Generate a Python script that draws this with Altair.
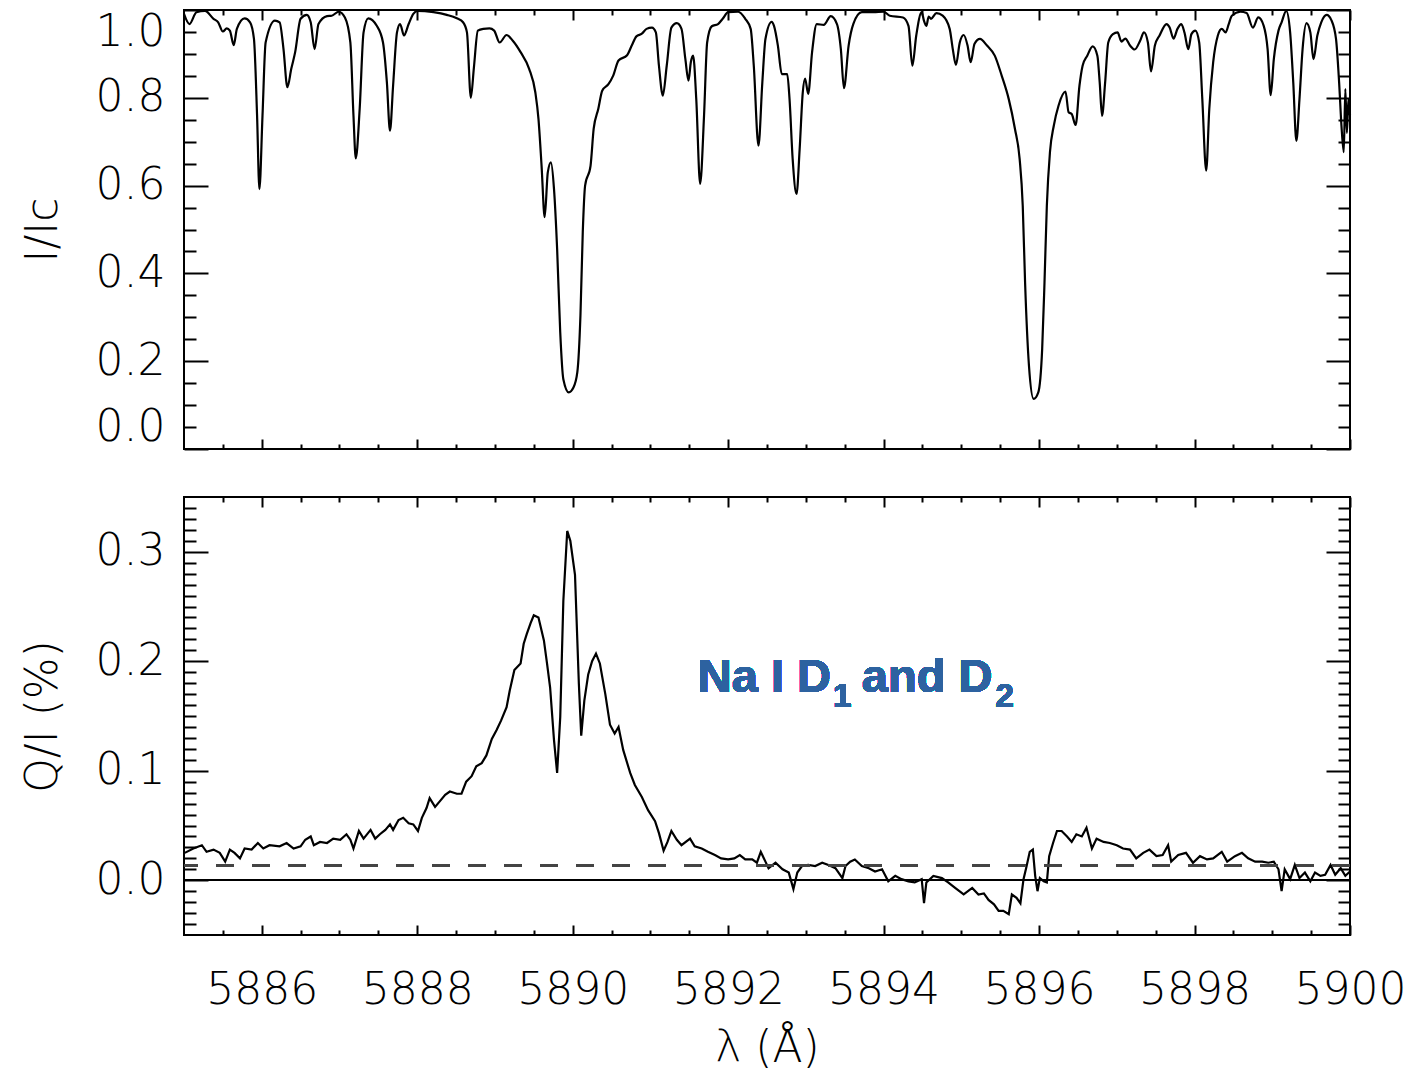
import altair as alt
import pandas as pd

# ---------------- data ----------------
# Top panel: intensity spectrum I/Ic versus wavelength (Angstrom)
wl_top = [
    5885.00, 5885.07, 5885.16, 5885.27, 5885.38, 5885.44, 5885.50, 5885.55, 5885.59, 5885.64,
    5885.68, 5885.78, 5885.85, 5885.90, 5885.94, 5885.97, 5886.01, 5886.05, 5886.17, 5886.23,
    5886.28, 5886.33, 5886.38, 5886.43, 5886.50, 5886.58, 5886.63, 5886.68, 5886.73, 5886.84,
    5886.90, 5886.99, 5887.07, 5887.14, 5887.18, 5887.21, 5887.26, 5887.31, 5887.37, 5887.48,
    5887.56, 5887.61, 5887.65, 5887.69, 5887.74, 5887.78, 5887.83, 5887.89, 5887.95, 5888.00,
    5888.21, 5888.38, 5888.51, 5888.59, 5888.64, 5888.69, 5888.73, 5888.78, 5888.85, 5888.93,
    5888.99, 5889.06, 5889.15, 5889.23, 5889.33, 5889.44, 5889.52, 5889.56, 5889.60, 5889.64,
    5889.68, 5889.72, 5889.76, 5889.80, 5889.84, 5889.88, 5889.95, 5890.01, 5890.06, 5890.10,
    5890.13, 5890.16, 5890.23, 5890.27, 5890.33, 5890.38, 5890.46, 5890.52, 5890.59, 5890.70,
    5890.76, 5890.82, 5890.89, 5890.95, 5891.02, 5891.07, 5891.11, 5891.16, 5891.21, 5891.27,
    5891.34, 5891.40, 5891.45, 5891.49, 5891.52, 5891.55, 5891.59, 5891.64, 5891.69, 5891.73,
    5891.79, 5891.87, 5891.93, 5892.00, 5892.13, 5892.22, 5892.29, 5892.33, 5892.39, 5892.44,
    5892.48, 5892.56, 5892.59, 5892.64, 5892.69, 5892.76, 5892.79, 5892.83, 5892.88, 5892.92,
    5892.96, 5892.99, 5893.03, 5893.08, 5893.14, 5893.23, 5893.32, 5893.40, 5893.45, 5893.49,
    5893.55, 5893.61, 5893.72, 5893.87, 5894.00, 5894.08, 5894.25, 5894.32, 5894.37, 5894.42,
    5894.49, 5894.52, 5894.55, 5894.58, 5894.61, 5894.68, 5894.76, 5894.85, 5894.89, 5894.93,
    5894.98, 5895.03, 5895.08, 5895.12, 5895.17, 5895.24, 5895.33, 5895.43, 5895.52, 5895.61,
    5895.69, 5895.75, 5895.79, 5895.82, 5895.87, 5895.93, 5895.99, 5896.04, 5896.07, 5896.10,
    5896.14, 5896.19, 5896.25, 5896.34, 5896.38, 5896.42, 5896.47, 5896.52, 5896.56, 5896.62,
    5896.69, 5896.75, 5896.78, 5896.81, 5896.85, 5896.89, 5896.95, 5897.01, 5897.06, 5897.11,
    5897.17, 5897.23, 5897.30, 5897.35, 5897.40, 5897.44, 5897.49, 5897.55, 5897.64, 5897.68,
    5897.73, 5897.78, 5897.83, 5897.87, 5897.92, 5897.96, 5898.01, 5898.06, 5898.10, 5898.15,
    5898.19, 5898.24, 5898.30, 5898.35, 5898.40, 5898.44, 5898.48, 5898.59, 5898.67, 5898.75,
    5898.82, 5898.89, 5898.94, 5898.98, 5899.02, 5899.08, 5899.12, 5899.18, 5899.23, 5899.27,
    5899.31, 5899.35, 5899.39, 5899.44, 5899.49, 5899.53, 5899.58, 5899.63, 5899.70, 5899.76,
    5899.82, 5899.86, 5899.89, 5899.92, 5899.94, 5899.96, 5899.98, 5900.00,
]
i_top = [
    0.991, 0.968, 0.995, 0.998, 0.980, 0.972, 0.951, 0.958, 0.953, 0.920,
    0.957, 0.981, 0.972, 0.934, 0.760, 0.592, 0.760, 0.926, 0.976, 0.972,
    0.911, 0.824, 0.866, 0.904, 0.980, 0.989, 0.972, 0.911, 0.968, 0.986,
    0.987, 0.996, 0.983, 0.926, 0.760, 0.662, 0.775, 0.949, 0.981, 0.964,
    0.926, 0.835, 0.725, 0.828, 0.949, 0.968, 0.942, 0.968, 0.991, 0.998,
    0.995, 0.989, 0.981, 0.972, 0.949, 0.800, 0.870, 0.953, 0.957, 0.958,
    0.953, 0.926, 0.943, 0.930, 0.904, 0.866, 0.812, 0.752, 0.645, 0.528,
    0.630, 0.653, 0.592, 0.456, 0.266, 0.159, 0.129, 0.140, 0.175, 0.304,
    0.494, 0.600, 0.645, 0.729, 0.775, 0.816, 0.831, 0.850, 0.885, 0.897,
    0.919, 0.940, 0.946, 0.957, 0.960, 0.949, 0.873, 0.805, 0.873, 0.960,
    0.970, 0.957, 0.888, 0.839, 0.881, 0.896, 0.797, 0.604, 0.759, 0.926,
    0.963, 0.968, 0.980, 0.995, 0.996, 0.980, 0.957, 0.873, 0.691, 0.835,
    0.934, 0.973, 0.964, 0.919, 0.854, 0.854, 0.797, 0.661, 0.581, 0.683,
    0.812, 0.844, 0.809, 0.904, 0.968, 0.966, 0.986, 0.968, 0.911, 0.822,
    0.919, 0.968, 0.995, 0.995, 0.996, 0.987, 0.983, 0.964, 0.873, 0.942,
    0.995, 0.975, 0.964, 0.985, 0.980, 0.993, 0.987, 0.957, 0.911, 0.875,
    0.926, 0.943, 0.919, 0.881, 0.923, 0.934, 0.919, 0.896, 0.850, 0.797,
    0.729, 0.661, 0.554, 0.380, 0.190, 0.114, 0.129, 0.228, 0.380, 0.554,
    0.676, 0.737, 0.782, 0.814, 0.767, 0.763, 0.738, 0.828, 0.873, 0.896,
    0.917, 0.896, 0.835, 0.759, 0.835, 0.926, 0.945, 0.949, 0.928, 0.935,
    0.919, 0.910, 0.930, 0.949, 0.926, 0.860, 0.919, 0.942, 0.968, 0.960,
    0.935, 0.957, 0.968, 0.949, 0.911, 0.945, 0.953, 0.926, 0.797, 0.634,
    0.775, 0.881, 0.942, 0.957, 0.949, 0.968, 0.987, 0.996, 0.993, 0.960,
    0.983, 0.964, 0.911, 0.806, 0.888, 0.953, 0.972, 0.998, 0.949, 0.835,
    0.702, 0.797, 0.911, 0.970, 0.949, 0.888, 0.942, 0.972, 0.989, 0.977,
    0.934, 0.835, 0.737, 0.676, 0.820, 0.720, 0.797, 0.760,
]

# Bottom panel: linear polarization Q/I (%) versus wavelength
wl_pol = [
    5885.01, 5885.12, 5885.23, 5885.29, 5885.38, 5885.46, 5885.53, 5885.59, 5885.65, 5885.72,
    5885.78, 5885.87, 5885.95, 5886.02, 5886.10, 5886.23, 5886.32, 5886.41, 5886.50, 5886.56,
    5886.63, 5886.67, 5886.75, 5886.84, 5886.92, 5887.01, 5887.09, 5887.14, 5887.18, 5887.25,
    5887.31, 5887.40, 5887.46, 5887.52, 5887.59, 5887.65, 5887.69, 5887.76, 5887.82, 5887.89,
    5887.95, 5888.01, 5888.06, 5888.12, 5888.16, 5888.23, 5888.29, 5888.36, 5888.42, 5888.51,
    5888.57, 5888.63, 5888.70, 5888.76, 5888.83, 5888.89, 5888.96, 5889.02, 5889.08, 5889.15,
    5889.19, 5889.25, 5889.33, 5889.37, 5889.41, 5889.46, 5889.50, 5889.56, 5889.63, 5889.67,
    5889.71, 5889.76, 5889.80, 5889.84, 5889.88, 5889.93, 5889.97, 5890.03, 5890.08, 5890.11,
    5890.15, 5890.20, 5890.25, 5890.30, 5890.35, 5890.42, 5890.48, 5890.54, 5890.59, 5890.65,
    5890.74, 5890.80, 5890.89, 5890.97, 5891.06, 5891.11, 5891.17, 5891.22, 5891.27, 5891.34,
    5891.40, 5891.51, 5891.57, 5891.66, 5891.74, 5891.83, 5891.91, 5892.00, 5892.08, 5892.15,
    5892.22, 5892.31, 5892.37, 5892.42, 5892.48, 5892.52, 5892.61, 5892.70, 5892.78, 5892.84,
    5892.89, 5892.95, 5893.03, 5893.12, 5893.21, 5893.29, 5893.38, 5893.47, 5893.51, 5893.57,
    5893.63, 5893.72, 5893.81, 5893.89, 5893.98, 5894.06, 5894.15, 5894.23, 5894.32, 5894.40,
    5894.49, 5894.52, 5894.55, 5894.64, 5894.75, 5894.83, 5894.92, 5895.03, 5895.14, 5895.22,
    5895.29, 5895.35, 5895.42, 5895.48, 5895.54, 5895.61, 5895.65, 5895.71, 5895.76, 5895.80,
    5895.84, 5895.88, 5895.92, 5895.95, 5895.98, 5896.01, 5896.06, 5896.10, 5896.13, 5896.18,
    5896.23, 5896.29, 5896.36, 5896.42, 5896.48, 5896.55, 5896.61, 5896.68, 5896.74, 5896.83,
    5896.91, 5897.00, 5897.08, 5897.17, 5897.25, 5897.34, 5897.42, 5897.51, 5897.59, 5897.66,
    5897.70, 5897.79, 5897.89, 5897.98, 5898.07, 5898.16, 5898.24, 5898.35, 5898.42, 5898.52,
    5898.61, 5898.69, 5898.78, 5898.87, 5898.95, 5899.02, 5899.08, 5899.12, 5899.16, 5899.23,
    5899.29, 5899.35, 5899.42, 5899.49, 5899.55, 5899.62, 5899.68, 5899.75, 5899.81, 5899.88,
    5899.94, 5900.00,
]
q_pol = [
    0.025, 0.029, 0.032, 0.026, 0.028, 0.025, 0.017, 0.028, 0.025, 0.020,
    0.029, 0.028, 0.034, 0.029, 0.032, 0.031, 0.034, 0.029, 0.031, 0.037,
    0.040, 0.032, 0.035, 0.034, 0.038, 0.037, 0.042, 0.037, 0.029, 0.045,
    0.038, 0.046, 0.038, 0.042, 0.046, 0.051, 0.046, 0.055, 0.057, 0.052,
    0.051, 0.045, 0.057, 0.066, 0.075, 0.067, 0.072, 0.078, 0.081, 0.079,
    0.079, 0.090, 0.095, 0.104, 0.107, 0.114, 0.129, 0.137, 0.146, 0.158,
    0.173, 0.192, 0.198, 0.216, 0.225, 0.235, 0.242, 0.240, 0.219, 0.198,
    0.176, 0.128, 0.098, 0.149, 0.255, 0.319, 0.310, 0.279, 0.179, 0.132,
    0.164, 0.188, 0.200, 0.207, 0.198, 0.170, 0.142, 0.134, 0.140, 0.119,
    0.098, 0.087, 0.076, 0.064, 0.054, 0.043, 0.027, 0.035, 0.045, 0.037,
    0.032, 0.038, 0.031, 0.029, 0.026, 0.023, 0.020, 0.019, 0.020, 0.023,
    0.019, 0.019, 0.016, 0.026, 0.017, 0.011, 0.016, 0.010, 0.007, -0.008,
    0.007, 0.013, 0.014, 0.013, 0.016, 0.014, 0.011, 0.002, 0.013, 0.017,
    0.019, 0.013, 0.011, 0.008, 0.010, -0.001, 0.004, 0.001, -0.001, -0.002,
    0.001, -0.021, -0.002, 0.004, 0.002, -0.002, -0.007, -0.013, -0.007, -0.013,
    -0.012, -0.018, -0.022, -0.028, -0.028, -0.031, -0.013, -0.016, -0.021, 0.001,
    0.013, 0.026, 0.028, 0.004, -0.010, 0.002, -0.001, -0.002, 0.022, 0.034,
    0.045, 0.045, 0.040, 0.035, 0.042, 0.040, 0.048, 0.029, 0.038, 0.035,
    0.034, 0.032, 0.029, 0.028, 0.020, 0.025, 0.028, 0.022, 0.023, 0.032,
    0.017, 0.023, 0.025, 0.016, 0.022, 0.019, 0.020, 0.026, 0.017, 0.022,
    0.025, 0.020, 0.017, 0.017, 0.016, 0.017, 0.010, -0.010, 0.010, 0.001,
    0.014, 0.002, 0.007, -0.001, 0.007, 0.004, 0.005, 0.014, 0.005, 0.011,
    0.004, 0.008,
]

x_domain = [5885, 5900]
x_major = [5886, 5888, 5890, 5892, 5894, 5896, 5898, 5900]
x_minor = [5885 + k / 2 for k in range(1, 30) if k % 4 != 2]
top_domain = [0.0, 1.0]
top_major = [0.0, 0.2, 0.4, 0.6, 0.8, 1.0]
top_minor = [k / 20 for k in range(1, 20) if k % 4 != 0]
pol_domain = [-0.05, 0.35]
pol_major = [0.0, 0.1, 0.2, 0.3]
pol_minor = [k / 100 for k in range(-4, 35) if k % 10 != 0]
dashed_level = 0.0135
annotation_pieces = ["Na I D", "1", "and D", "2"]

# ---------------- styling ----------------
FONT = "DejaVu Sans"
LBL = 44
BLUE = "#2d62a0"


def axis(orient, values, size, labels=False, fmt=None, title=None, **kw):
    args = dict(orient=orient, values=values, tickSize=size, offset=-size,
                domain=False, grid=False, labels=labels, ticks=True,
                tickWidth=2, tickColor="black", title=title)
    if labels:
        args.update(format=fmt, labelFont=FONT, labelFontSize=LBL,
                    labelFontWeight=200, labelColor="black", labelOverlap=False)
    if title is not None:
        args.update(titleFont=FONT, titleFontSize=LBL, titleFontWeight=200,
                    titleColor="black")
    args.update(kw)
    return alt.Axis(**args)


def panel(df, yfield, ydomain, ymaj, ymin, ytitle, bottom_labels, height, extra, interp):
    xs = alt.Scale(domain=x_domain, nice=False, zero=False)
    ys = alt.Scale(domain=ydomain, nice=False, zero=False)

    def lay(xax, yax, visible):
        if visible:
            m = alt.Chart(df).mark_line(color="black", strokeWidth=2.2, interpolate=interp)
        else:
            m = alt.Chart(df).mark_line(color="black", opacity=0)
        return m.encode(
            x=alt.X("wl:Q", scale=xs, axis=xax),
            y=alt.Y(f"{yfield}:Q", scale=ys, axis=yax),
        )

    if bottom_labels:
        xb = axis("bottom", x_major, 10, labels=True, fmt="d", title="λ (Å)",
                  labelPadding=33, titlePadding=14, labelFlush=False)
    else:
        xb = axis("bottom", x_major, 10)
    yl = axis("left", ymaj, 24, labels=True, fmt=".1f", title=ytitle,
              labelPadding=19, titlePadding=30, labelFlush=(ydomain[0] == 0.0))
    layers = [
        lay(xb, yl, True),
        lay(axis("top", x_major, 10), axis("right", ymaj, 24), False),
        lay(axis("bottom", x_minor, 5), axis("left", ymin, 12), False),
        lay(axis("top", x_minor, 5), axis("right", ymin, 12), False),
    ] + extra
    return alt.layer(*layers).resolve_axis(x="independent", y="independent").properties(
        width=1166, height=height)


top_df = pd.DataFrame({"wl": wl_top, "v": i_top})
pol_df = pd.DataFrame({"wl": wl_pol, "v": q_pol})

yscale_pol = alt.Scale(domain=pol_domain, nice=False, zero=False)
xscale = alt.Scale(domain=x_domain, nice=False, zero=False)

zero_rule = alt.Chart(pol_df).mark_rule(color="black", strokeWidth=1.5).encode(
    y=alt.YDatum(0.0, scale=yscale_pol, axis=None))
dash_rule = alt.Chart(pol_df).mark_rule(color="#444444", strokeWidth=1.6, strokeDash=[18, 18]).encode(
    y=alt.YDatum(dashed_level, scale=yscale_pol, axis=None))


def label(txt, xv, yv, size):
    return alt.Chart(pol_df).mark_text(
        text=txt, align="left", baseline="alphabetic", font="Liberation Sans",
        fontWeight="bold", fontSize=size, color=BLUE,
    ).encode(x=alt.XDatum(xv, scale=xscale, axis=None),
             y=alt.YDatum(yv, scale=yscale_pol, axis=None))


texts = [
    label(annotation_pieces[0], 5891.61, 0.172, 47),
    label(annotation_pieces[1], 5893.35, 0.158, 33),
    label(annotation_pieces[2], 5893.72, 0.172, 47),
    label(annotation_pieces[3], 5895.44, 0.158, 33),
]

top = panel(top_df, "v", top_domain, top_major, top_minor, "I/Ic", False, 439, [], "monotone")
bottom = panel(pol_df, "v", pol_domain, pol_major, pol_minor, "Q/I (%)", True, 438,
               [dash_rule, zero_rule, *texts], "linear")

chart = alt.vconcat(top, bottom, spacing=44).properties(
    padding={"left": 20, "top": 5, "right": 0, "bottom": 0},
    background="white",
).configure_view(stroke="black", strokeWidth=2)

chart.save("out.html", embed_options={"renderer": "svg", "actions": False})
